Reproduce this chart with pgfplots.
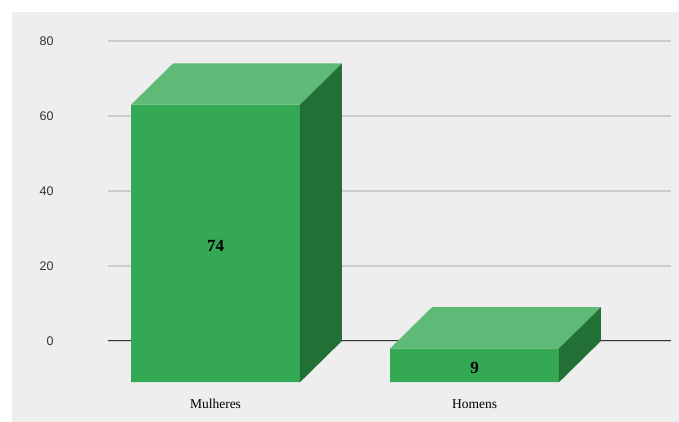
\documentclass[border=0pt]{standalone}
\usepackage{pgfplots}
\pgfplotsset{compat=1.18}
\usepackage{fontspec}
\setmainfont{Liberation Serif}
\newfontfamily\ticksans{Liberation Sans}
\definecolor{panel}{HTML}{EEEEEE}
\definecolor{gridc}{HTML}{CCCCCC}
\definecolor{frontc}{HTML}{34A853}
\definecolor{topc}{HTML}{5EBA77}
\definecolor{sidec}{HTML}{227036}
\begin{document}
\begin{tikzpicture}
\useasboundingbox (0,0) rectangle (679pt,422pt);
\fill[white] (0,0) rectangle (679pt,422pt);
\fill[panel] (12pt,0) rectangle (679pt,410pt);
\begin{axis}[
  at={(108pt,39.75pt)}, anchor=south west,
  x=259pt, y=3.75pt,
  xmin=-0.41506, xmax=1.7587, ymin=-11, ymax=80,
  axis line style={draw=none},
  clip=false,
  ytick={0,20,40,60,80},
  ymajorgrids,
  major grid style={gridc, line width=1.2pt},
  major tick length=0pt,
  xtick={0,1}, xticklabels={Mulheres,Homens},
  /pgf/number format/assume math mode=true,
  yticklabel style={font=\ticksans\fontsize{12.5}{14}\selectfont, text=black!80, xshift=-51pt},
  xticklabel style={font=\fontsize{13.5}{15}\selectfont, anchor=center, yshift=-22pt},
]
% zero line
\addplot[draw=black!80, line width=1pt] coordinates {(-0.41506,0) (1.7587,0)};
% Mulheres = 74
\addplot[fill=frontc, draw=none] coordinates {(-0.326,-11) (0.326,-11) (0.326,63) (-0.326,63) (-0.326,-11)};
\addplot[fill=topc, draw=none] coordinates {(-0.326,63) (0.326,63) (0.488,74) (-0.164,74) (-0.326,63)};
\addplot[fill=sidec, draw=none] coordinates {(0.326,-11) (0.488,0) (0.488,74) (0.326,63) (0.326,-11)};
% Homens = 9
\addplot[fill=frontc, draw=none] coordinates {(0.674,-11) (1.326,-11) (1.326,-2) (0.674,-2) (0.674,-11)};
\addplot[fill=topc, draw=none] coordinates {(0.674,-2) (1.326,-2) (1.488,9) (0.836,9) (0.674,-2)};
\addplot[fill=sidec, draw=none] coordinates {(1.326,-11) (1.488,0) (1.488,9) (1.326,-2) (1.326,-11)};
% value labels
\addplot[draw=none, nodes near coords, point meta=explicit symbolic,
  nodes near coords style={anchor=center, text=black, font=\bfseries\fontsize{17}{18}\selectfont}]
  coordinates {(0,25.3) [74] (1,-7.2) [9]};
\end{axis}
\end{tikzpicture}
\end{document}
